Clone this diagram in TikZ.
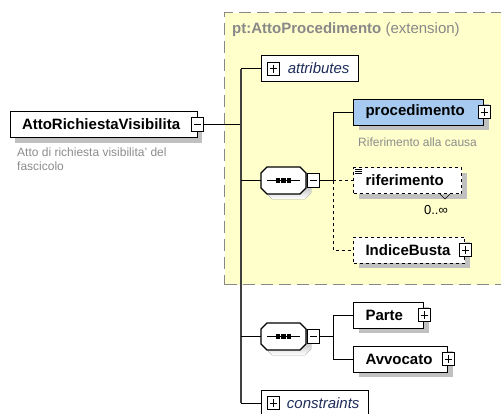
\documentclass[tikz,border=0pt]{standalone}
\usepackage{fontspec}
\setmainfont{Liberation Sans}
\usetikzlibrary{shadows}

\definecolor{extfill}{RGB}{255,255,204}
\definecolor{extframe}{RGB}{136,136,136}
\definecolor{shade}{RGB}{192,192,192}
\definecolor{notegray}{RGB}{140,140,140}
\definecolor{elblue}{RGB}{166,202,240}
\definecolor{grpblue}{RGB}{30,45,90}
\definecolor{trunkgray}{RGB}{64,64,64}

\begin{document}
\begin{tikzpicture}[x=1pt,y=-1pt]

	\tikzstyle shadowed=[drop shadow={shadow xshift=5pt,shadow yshift=-5pt,fill=shade,opacity=1}];
	\tikzstyle element=[draw,line width=1pt,fill=white,shadowed,minimum height=26pt,inner xsep=12pt,inner ysep=0pt,align=left,anchor=west,font=\fontsize{15}{17}\selectfont\bfseries];
	\tikzstyle optional=[element,dashed];
	\tikzstyle grouping=[draw,line width=1pt,fill=white,minimum height=26pt,inner xsep=9pt,inner ysep=0pt,align=right,anchor=west,text=grpblue,font=\fontsize{15}{17}\selectfont\itshape];
	\tikzstyle note=[text=notegray,inner sep=0pt,align=left,font=\fontsize{12}{14}\selectfont];
	\tikzstyle plusbox=[draw,line width=0.8pt,fill=white,minimum width=12pt,minimum height=13pt,inner sep=0pt,
		path picture={\draw[line width=0.8pt] ([xshift=2.5pt]path picture bounding box.west) -- ([xshift=-2.5pt]path picture bounding box.east);
		\draw[line width=0.8pt] ([yshift=-2.5pt]path picture bounding box.north) -- ([yshift=2.5pt]path picture bounding box.south);}];
	\tikzstyle minusbox=[draw,line width=0.8pt,fill=white,minimum width=12pt,minimum height=14pt,inner sep=0pt,
		path picture={\draw[line width=0.8pt] ([xshift=2.5pt]path picture bounding box.west) -- ([xshift=-2.5pt]path picture bounding box.east);}];
	\tikzstyle sequence=[minimum width=45pt,minimum height=27pt,inner sep=0pt];
	\tikzstyle link=[line width=1pt];
	\tikzstyle trunk=[line width=1.6pt,trunkgray];

	\useasboundingbox (0,0) rectangle (501,413);

	% extension frame
	\node[draw=extframe,fill=extfill,line width=1pt,dash pattern=on 12pt off 6pt,minimum width=300pt,minimum height=272pt,anchor=north west] (ext) at (224,12) {};
	\node[anchor=west,text=extframe,inner sep=0pt,font=\fontsize{15}{17}\selectfont] (extTitle) at (232,30) {\textbf{pt:AttoProcedimento} (extension)};

	% root element
	\node[element,text width=163pt,anchor=center] (main) at (103.5,124.5) {AttoRichiestaVisibilita};
	\node[minusbox] (mainMinus) at (main.east) {};
	\node[note,anchor=north west] (mainNote) at (17,148) {Atto di richiesta visibilita' del\\fascicolo};

	\coordinate (trunk) at (241,0);
	\coordinate (branch) at (333,0);

	% sequence compositors
	\node[sequence] (seqA) at (283.5,180.5) {};
	\node[sequence] (seqB) at (283.5,336.5) {};
	\foreach \s in {seqA,seqB} {
		\fill[shade] ([shift={(5pt,-5pt)}]\s.center) +(-16.5,-13.5) -- +(16.5,-13.5) -- +(22.5,-7.5) -- +(22.5,7.5) -- +(16.5,13.5) -- +(-16.5,13.5) -- +(-22.5,7.5) -- +(-22.5,-7.5) -- cycle;
		\filldraw[fill=white,line width=1.2pt] (\s.center) +(-16.5,-13.5) -- +(16.5,-13.5) -- +(22.5,-7.5) -- +(22.5,7.5) -- +(16.5,13.5) -- +(-16.5,13.5) -- +(-22.5,7.5) -- +(-22.5,-7.5) -- cycle;
		\draw[line width=1pt] (\s.center) +(-16.5,0) -- +(16.5,0);
		\foreach \d in {-5.5,0,5.5}
			\fill (\s.center) +(\d-2.1,-2.1) rectangle +(\d+2.1,2.1);
	}
	\node[minusbox,anchor=west] (seqAMinus) at ([xshift=1pt]seqA.east) {};
	\node[minusbox,anchor=west] (seqBMinus) at ([xshift=1pt]seqB.east) {};

	% content of the base type
	\node[grouping,text width=79pt] (attrs) at (261,68.5) {attributes};
	\node[plusbox] (attrsPlus) at ([xshift=12pt]attrs.west) {};

	\node[element,fill=elblue,text width=106pt] (proc) at (353,112) {procedimento};
	\node[plusbox] (procPlus) at (proc.east) {};
	\node[note,anchor=west] (procNote) at (358,142) {Riferimento alla causa};

	\node[optional,text width=84pt] (rif) at (353,180.5) {riferimento};
	\foreach \k in {2,4,6}
		\draw[line width=0.6pt] ([shift={(2pt,-\k pt)}]rif.north west) -- ++(7,0);
	\draw[line width=0.6pt] ([xshift=-22pt]rif.south east) -- ++(5,5) -- ++(5,-5);
	\node[inner sep=0pt,font=\fontsize{13}{15}\selectfont] (rifOcc) at (436,210) {0..∞};

	\node[optional,text width=87pt] (busta) at (353,250) {IndiceBusta};
	\node[plusbox] (bustaPlus) at (busta.east) {};

	% own content
	\node[element,text width=46pt] (parte) at (353,315) {Parte};
	\node[plusbox] (partePlus) at (parte.east) {};
	\node[element,text width=70pt] (avv) at (353,359) {Avvocato};
	\node[plusbox] (avvPlus) at (avv.east) {};

	\node[grouping,text width=89pt] (cons) at (261,403) {constraints};
	\node[plusbox] (consPlus) at ([xshift=12pt]cons.west) {};

	% connectors
	\draw[link] (mainMinus.east) -- (mainMinus.east -| trunk);
	\draw[trunk] (attrs.west -| trunk) -- (cons.west -| trunk);
	\draw[link] (attrs.west -| trunk) -- (attrs.west);
	\draw[link] (seqA.west -| trunk) -- (seqA.west);
	\draw[link] (seqB.west -| trunk) -- (seqB.west);
	\draw[link] (cons.west -| trunk) -- (cons.west);

	\draw[link] (seqAMinus.east) -- (seqAMinus.east -| branch);
	\draw[link] (proc.west) -- (proc.west -| branch) -- (seqAMinus.east -| branch);
	\draw[link,dashed] (seqAMinus.east -| branch) -- (rif.west);
	\draw[link,dashed] (seqAMinus.east -| branch) -- (busta.west -| branch) -- (busta.west);

	\draw[link] (seqBMinus.east) -- (seqBMinus.east -| branch);
	\draw[link] (parte.west) -- (parte.west -| branch) -- (avv.west -| branch) -- (avv.west);

\end{tikzpicture}
\end{document}
